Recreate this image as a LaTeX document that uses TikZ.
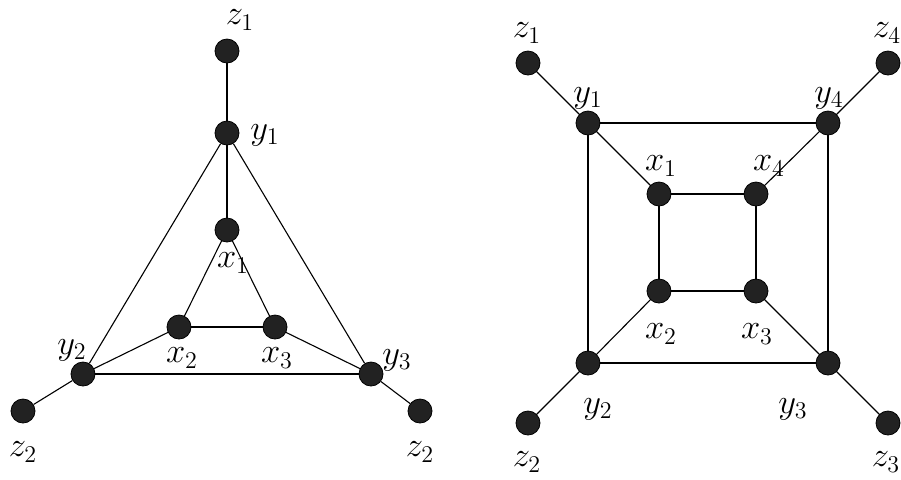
\documentclass[tikz,border=0pt]{standalone}
\usepackage{tikz}
\usetikzlibrary{positioning}
\definecolor{vertexFill}{HTML}{222222}

\begin{document}
\begin{tikzpicture}[
  x=0.5pt, y=-0.5pt,
  vtx/.style={circle, fill=vertexFill, draw=black, line width=0.4pt, minimum size=12pt, inner sep=0pt},
  lbl/.style={font=\fontsize{17}{20}\selectfont, inner sep=0pt},
  edge/.style={draw=black, line width=0.55pt}
]
  \useasboundingbox (0,0) rectangle (901,479);

  % left graph
  \node[vtx] (az1) at (227,51) {};
  \node[vtx] (ay1) at (227,133) {};
  \node[vtx] (ax1) at (227,230) {};
  \node[vtx] (ax2) at (179,327) {};
  \node[vtx] (ax3) at (275,327) {};
  \node[vtx] (ay2) at (83,374) {};
  \node[vtx] (ay3) at (371,374) {};
  \node[vtx] (az2) at (23,411) {};
  \node[vtx] (az3) at (420,411) {};

  \node[lbl] (laz1) at (240,20) {$z_1$};
  \node[lbl] (lay1) at (265,135) {$y_1$};
  \node[lbl] (lax1) at (233,263) {$x_1$};
  \node[lbl] (lax2) at (182,358) {$x_2$};
  \node[lbl] (lax3) at (277,358) {$x_3$};
  \node[lbl] (lay2) at (72,350) {$y_2$};
  \node[lbl] (lay3) at (397,360) {$y_3$};
  \node[lbl] (laz2) at (23,452) {$z_2$};
  \node[lbl] (laz3) at (420,452) {$z_2$};

  % right graph
  \node[vtx] (bz1) at (528,63) {};
  \node[vtx] (by1) at (588,123) {};
  \node[vtx] (bx1) at (659,194) {};
  \node[vtx] (bx4) at (756,194) {};
  \node[vtx] (by4) at (828,123) {};
  \node[vtx] (bz4) at (888,63) {};
  \node[vtx] (bx2) at (659,291) {};
  \node[vtx] (bx3) at (756,291) {};
  \node[vtx] (by2) at (588,363) {};
  \node[vtx] (by3) at (828,363) {};
  \node[vtx] (bz2) at (528,423) {};
  \node[vtx] (bz3) at (888,423) {};

  \node[lbl] (lbz1) at (527,33) {$z_1$};
  \node[lbl] (lby1) at (588,98) {$y_1$};
  \node[lbl] (lbx1) at (661,166) {$x_1$};
  \node[lbl] (lbx4) at (769,166) {$x_4$};
  \node[lbl] (lby4) at (829,98) {$y_4$};
  \node[lbl] (lbz4) at (887,33) {$z_4$};
  \node[lbl] (lbx2) at (661,334) {$x_2$};
  \node[lbl] (lbx3) at (757,334) {$x_3$};
  \node[lbl] (lby2) at (598,409) {$y_2$};
  \node[lbl] (lby3) at (793,409) {$y_3$};
  \node[lbl] (lbz2) at (527,462) {$z_2$};
  \node[lbl] (lbz3) at (886,462) {$z_3$};

  \foreach \u/\v in {az1/ay1, ay1/ax1, ay1/ay2, ay1/ay3, ax1/ax2, ax1/ax3, ax2/ax3,
                     ax2/ay2, ax3/ay3, ay2/ay3, ay2/az2, ay3/az3,
                     bz1/by1, by1/bx1, by1/by4, by1/by2, by4/bz4, by4/bx4, by4/by3,
                     bx1/bx4, bx1/bx2, bx4/bx3, bx2/bx3, bx2/by2, bx3/by3,
                     by2/by3, by2/bz2, by3/bz3}{ \draw[edge] (\u) -- (\v); }
\end{tikzpicture}
\end{document}
